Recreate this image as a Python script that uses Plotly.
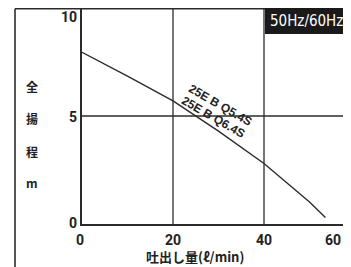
import plotly.graph_objects as go

# Data
flow = [0, 10, 20, 30, 40, 45, 50, 53.5]
head = [7.95, 6.85, 5.7, 4.3, 2.8, 1.9, 1.02, 0.3]
x_ticks = [0, 20, 40, 60]
y_ticks = [0, 5, 10]
y_title_chars = ["全", "揚", "程", "m"]
x_title = "吐出し量(ℓ/min)"
curve_labels = ["25E B Q5.4S", "25E B Q6.4S"]
freq_label = "50Hz/60Hz"

# page body has an 8px margin; coordinates below are in window pixels
OFF = 8
W, H = 351 - OFF, 267 - OFF
L, R, T, B = 82 - OFF, 0, 0, H - (224 - OFF)
pw, ph = W - L - R, H - T - B
XMAX = pw / 4.55


def fx(p):
    """window x pixel -> paper x"""
    return (p - OFF - L) / pw


def fy(p):
    """window y pixel -> paper y"""
    return (H - B - (p - OFF)) / ph


LINE = "#2b2b2b"
TXT = "#222222"
FONT = "Noto Sans CJK JP"

fig = go.Figure()
fig.add_trace(go.Scatter(x=flow, y=head, mode="lines",
                         line=dict(color=LINE, width=1.4), showlegend=False,
                         hoverinfo="skip"))

shapes = []
# gridlines
for xv in x_ticks[1:]:
    shapes.append(dict(type="line", xref="x", yref="paper", x0=xv, x1=xv, y0=0, y1=1,
                       line=dict(color=LINE, width=1.3)))
shapes.append(dict(type="line", xref="paper", yref="y", x0=0, x1=1, y0=5, y1=5,
                   line=dict(color=LINE, width=1.3)))
# outer frame: top line and left border
shapes.append(dict(type="line", xref="paper", yref="paper", x0=fx(15), x1=1.02,
                   y0=fy(8.8), y1=fy(8.8), line=dict(color=LINE, width=1.6)))
shapes.append(dict(type="line", xref="paper", yref="paper", x0=fx(15), x1=fx(15),
                   y0=fy(8.8), y1=fy(270), line=dict(color=LINE, width=1.6)))
# black frequency box
shapes.append(dict(type="rect", xref="paper", yref="paper", x0=fx(265), x1=1.05,
                   y0=fy(34), y1=fy(8), fillcolor="#1a1a1a", line=dict(width=0)))

annotations = []
# y tick labels
ypos = {10: 17, 5: 117, 0: 223}
for yv in y_ticks:
    annotations.append(dict(text=f"<b>{yv}</b>", xref="paper", yref="paper",
                            x=fx(79), y=fy(ypos[yv]), xanchor="right", yanchor="middle",
                            showarrow=False, font=dict(family="Roboto", size=14, color=TXT)))
# x tick labels
for xv in x_ticks:
    last = xv == x_ticks[-1]
    annotations.append(dict(text=f"<b>{xv}</b>",
                            xref="paper" if last else "x", yref="paper",
                            x=fx(343) if last else xv, y=fy(240),
                            xanchor="right" if last else "center", yanchor="middle",
                            xshift=-2 if xv == 0 else 0,
                            showarrow=False, font=dict(family="Roboto", size=14, color=TXT)))
# y title characters
for i, ch in enumerate(y_title_chars):
    annotations.append(dict(text=f"<b>{ch}</b>", xref="paper", yref="paper",
                            x=fx(32), y=fy([87, 118, 151, 182][i]), xanchor="center",
                            yanchor="middle", showarrow=False,
                            font=dict(family=FONT, size=12, color=TXT)))
# x title
annotations.append(dict(text=f"<b>{x_title}</b>", xref="paper", yref="paper",
                        x=fx(195), y=fy(256), xanchor="center", yanchor="middle",
                        showarrow=False, font=dict(family=FONT, size=13, color=TXT)))
# curve labels
for lab, (cx, cy) in zip(curve_labels, [(220, 105), (213, 117)]):
    annotations.append(dict(text=f"<b>{lab}</b>", xref="paper", yref="paper",
                            x=fx(cx), y=fy(cy), xanchor="center", yanchor="middle",
                            textangle=30, showarrow=False,
                            font=dict(family="Liberation Sans", size=12, color=TXT)))
# frequency label
annotations.append(dict(text=freq_label, xref="paper", yref="paper",
                        x=fx(268), y=fy(21), xanchor="left", yanchor="middle",
                        showarrow=False,
                        font=dict(family="Liberation Sans Narrow, DejaVu Sans Condensed, Roboto",
                                  size=15, color="white")))

fig.update_layout(
    width=W, height=H,
    margin=dict(l=L, r=R, t=T, b=B),
    paper_bgcolor="white", plot_bgcolor="white",
    shapes=shapes, annotations=annotations,
    xaxis=dict(range=[0, XMAX], showgrid=False, zeroline=False, showticklabels=False,
               ticks="", showline=True, linecolor=LINE, linewidth=1.6, mirror=False),
    yaxis=dict(range=[0, 10], showgrid=False, zeroline=False, showticklabels=False,
               ticks="", showline=True, linecolor=LINE, linewidth=1.6, mirror=False),
)

fig.write_html("out.html")
